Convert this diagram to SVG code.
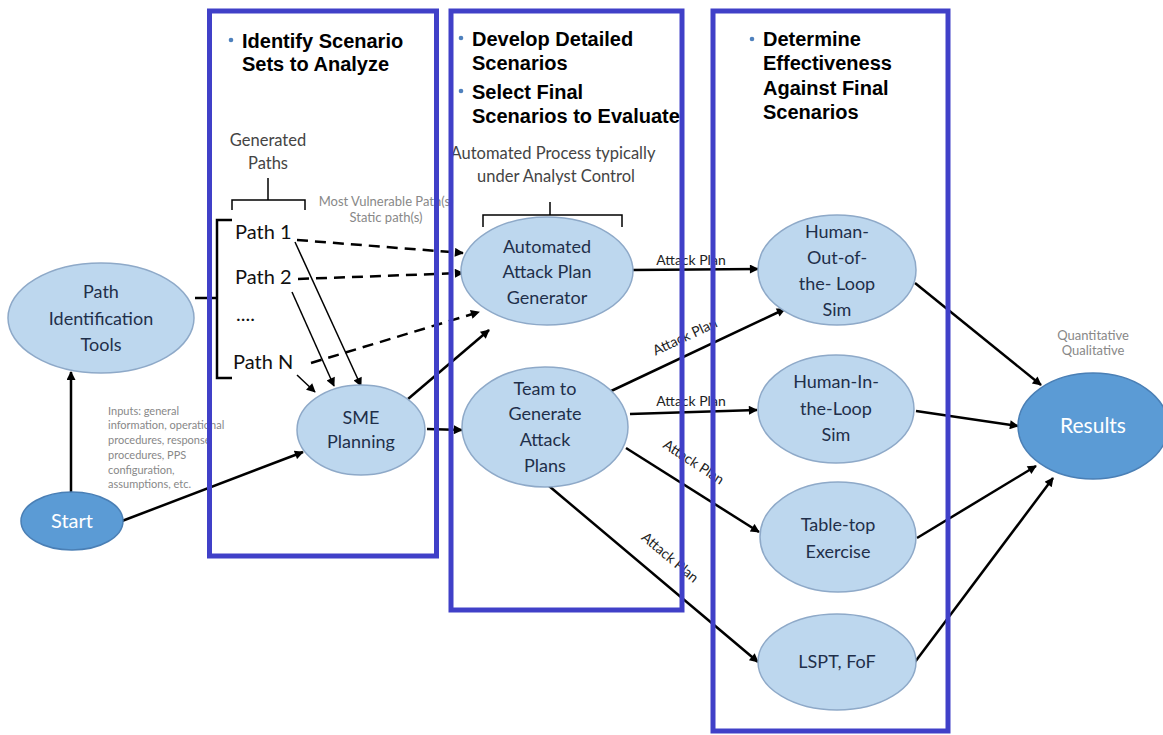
<svg xmlns="http://www.w3.org/2000/svg" width="1163" height="735" viewBox="0 0 1163 735">
<defs>
<marker id="ah" viewBox="0 0 10 10" refX="9" refY="5" markerWidth="11" markerHeight="9" markerUnits="userSpaceOnUse" orient="auto"><path d="M0,0 L10,5 L0,10 z" fill="#000"/></marker>
<style>
.n{fill:#BDD7EE;stroke:#8EA9C8;stroke-width:1.5}
.d{fill:#5B9BD5;stroke:#4A7FB5;stroke-width:1.5}
.t{font-family:Lato,"Liberation Sans",sans-serif;font-size:18px;fill:#1F2F4A;text-anchor:middle}
.w{font-family:Lato,"Liberation Sans",sans-serif;font-size:20px;fill:#fff;text-anchor:middle}
.c{stroke:#000;stroke-width:2.5;fill:none}
.th{stroke:#000;stroke-width:1.5;fill:none}
.dash{stroke-dasharray:11 7}
.lbl{font-family:Lato,"Liberation Sans",sans-serif;font-size:14px;fill:#222;text-anchor:middle}
.g{font-family:Lato,"Liberation Sans",sans-serif;font-size:13px;fill:#888;text-anchor:middle}
.gs{font-family:Lato,"Liberation Sans",sans-serif;font-size:11px;fill:#888}
.gp{font-family:Lato,"Liberation Sans",sans-serif;font-size:16.5px;fill:#444;text-anchor:middle}
.p{font-family:Lato,"Liberation Sans",sans-serif;font-size:20px;fill:#111}
.box{fill:none;stroke:#4040C8;stroke-width:5}
.h{font-family:"Liberation Sans",Arial,sans-serif;font-weight:bold;font-size:20px;fill:#000}
.b{fill:#4F81BD}
</style>
</defs>
<rect width="1163" height="735" fill="#fff"/>

<g id="connectors">
  <line class="c" x1="71" y1="493" x2="71" y2="372" marker-end="url(#ah)"/>
  <line class="c" x1="122" y1="521" x2="303" y2="452" marker-end="url(#ah)"/>
  <line class="c" x1="195" y1="298" x2="217" y2="298"/>
  <path class="c" d="M232,220 H217 V378 H232"/>
  <path class="th" d="M232,210 V200 H305 V210 M268,200 V178"/>
  <path class="th" d="M483,227 V215 H622 V227 M550,215 V202"/>
  <line class="c dash" x1="297" y1="240" x2="463" y2="253" marker-end="url(#ah)"/>
  <line class="c dash" x1="298" y1="279" x2="463" y2="273" marker-end="url(#ah)"/>
  <line class="c dash" x1="311" y1="363" x2="479" y2="312" marker-end="url(#ah)"/>
  <line class="th" x1="295" y1="242" x2="361" y2="386" marker-end="url(#ah)"/>
  <line class="th" x1="292" y1="292" x2="334" y2="386" marker-end="url(#ah)"/>
  <line class="th" x1="297" y1="375" x2="315" y2="392" marker-end="url(#ah)"/>
  <line class="c" x1="427" y1="429" x2="462" y2="430" marker-end="url(#ah)"/>
  <line class="c" x1="408" y1="399" x2="489" y2="330" marker-end="url(#ah)"/>
  <line class="c" x1="632" y1="270" x2="758" y2="269" marker-end="url(#ah)"/>
  <line class="c" x1="609" y1="392" x2="785" y2="309" marker-end="url(#ah)"/>
  <line class="c" x1="630" y1="414" x2="757" y2="410" marker-end="url(#ah)"/>
  <line class="c" x1="626" y1="448" x2="759" y2="532" marker-end="url(#ah)"/>
  <line class="c" x1="549" y1="486" x2="758" y2="662" marker-end="url(#ah)"/>
  <line class="c" x1="915" y1="283" x2="1041" y2="385" marker-end="url(#ah)"/>
  <line class="c" x1="916" y1="411" x2="1018" y2="426" marker-end="url(#ah)"/>
  <line class="c" x1="917" y1="538" x2="1036" y2="466" marker-end="url(#ah)"/>
  <line class="c" x1="915" y1="662" x2="1053" y2="478" marker-end="url(#ah)"/>
  <text class="lbl" x="691" y="265">Attack Plan</text>
  <text class="lbl" transform="translate(687,341) rotate(-25)">Attack Plan</text>
  <text class="lbl" x="691" y="406">Attack Plan</text>
  <text class="lbl" transform="translate(691,466) rotate(33)">Attack Plan</text>
  <text class="lbl" transform="translate(667,561) rotate(40)">Attack Plan</text>
</g>

<g id="annotations">
  <text class="gp" x="268" y="146">Generated</text>
  <text class="gp" x="268" y="169">Paths</text>
  <text class="g" x="386" y="206">Most Vulnerable Path(s)</text>
  <text class="g" x="386" y="222">Static path(s)</text>
  <text class="gp" x="553" y="159">Automated Process typically</text>
  <text class="gp" x="556" y="182">under Analyst Control</text>
  <text class="g" x="1093" y="340">Quantitative</text>
  <text class="g" x="1093" y="355">Qualitative</text>
  <text class="gs" x="108"><tspan x="108" y="415">Inputs: general</tspan><tspan x="108" y="429">information, operational</tspan><tspan x="108" y="444">procedures, response</tspan><tspan x="108" y="459">procedures, PPS</tspan><tspan x="108" y="474">configuration,</tspan><tspan x="108" y="488">assumptions, etc.</tspan></text>
</g>

<g id="paths">
  <text class="p" x="235" y="239">Path 1</text>
  <text class="p" x="235" y="284">Path 2</text>
  <text class="p" x="236" y="321">....</text>
  <text class="p" x="233" y="369">Path N</text>
</g>

<g id="node-start"><ellipse class="d" cx="72" cy="521" rx="51" ry="29"/><text class="w" x="72" y="528">Start</text></g>
<g id="node-pit"><ellipse class="n" cx="101" cy="318" rx="93" ry="55"/><text class="t" x="101" y="298">Path</text><text class="t" x="101" y="325">Identification</text><text class="t" x="101" y="351">Tools</text></g>
<g id="node-sme"><ellipse class="n" cx="361" cy="430" rx="64" ry="45"/><text class="t" x="361" y="424">SME</text><text class="t" x="361" y="448">Planning</text></g>
<g id="node-aapg"><ellipse class="n" cx="547" cy="271" rx="86" ry="54"/><text class="t" x="547" y="253">Automated</text><text class="t" x="547" y="278">Attack Plan</text><text class="t" x="547" y="304">Generator</text></g>
<g id="node-team"><ellipse class="n" cx="545" cy="427" rx="83" ry="60"/><text class="t" x="545" y="395">Team to</text><text class="t" x="545" y="420">Generate</text><text class="t" x="545" y="446">Attack</text><text class="t" x="545" y="472">Plans</text></g>
<g id="node-hootl"><ellipse class="n" cx="837" cy="270" rx="79" ry="55"/><text class="t" x="837" y="238">Human-</text><text class="t" x="837" y="264">Out-of-</text><text class="t" x="837" y="290">the- Loop</text><text class="t" x="837" y="316">Sim</text></g>
<g id="node-hitl"><ellipse class="n" cx="836" cy="409" rx="78" ry="54"/><text class="t" x="836" y="388">Human-In-</text><text class="t" x="836" y="415">the-Loop</text><text class="t" x="836" y="441">Sim</text></g>
<g id="node-tabletop"><ellipse class="n" cx="838" cy="537" rx="78" ry="55"/><text class="t" x="838" y="531">Table-top</text><text class="t" x="838" y="558">Exercise</text></g>
<g id="node-lspt"><ellipse class="n" cx="837" cy="662" rx="79" ry="48"/><text class="t" x="837" y="668">LSPT, FoF</text></g>
<g id="node-results"><ellipse class="d" cx="1093" cy="426" rx="75" ry="53"/><text class="w" x="1093" y="433" style="font-size:21px">Results</text></g>

<g id="phase-boxes">
  <rect class="box" x="209.5" y="11" width="227" height="545"/>
  <rect class="box" x="451" y="11" width="231" height="599"/>
  <rect class="box" x="713" y="11" width="235" height="720"/>
  <circle class="b" cx="231" cy="40" r="2.3"/>
  <text class="h" x="242" y="48">Identify Scenario</text>
  <text class="h" x="242" y="71">Sets to Analyze</text>
  <circle class="b" cx="461" cy="38" r="2.3"/>
  <text class="h" x="472" y="46">Develop Detailed</text>
  <text class="h" x="472" y="70">Scenarios</text>
  <circle class="b" cx="461" cy="91" r="2.3"/>
  <text class="h" x="472" y="99">Select Final</text>
  <text class="h" x="472" y="123">Scenarios to Evaluate</text>
  <circle class="b" cx="752" cy="39" r="2.3"/>
  <text class="h" x="763" y="46">Determine</text>
  <text class="h" x="763" y="70">Effectiveness</text>
  <text class="h" x="763" y="95">Against Final</text>
  <text class="h" x="763" y="119">Scenarios</text>
</g>
</svg>
